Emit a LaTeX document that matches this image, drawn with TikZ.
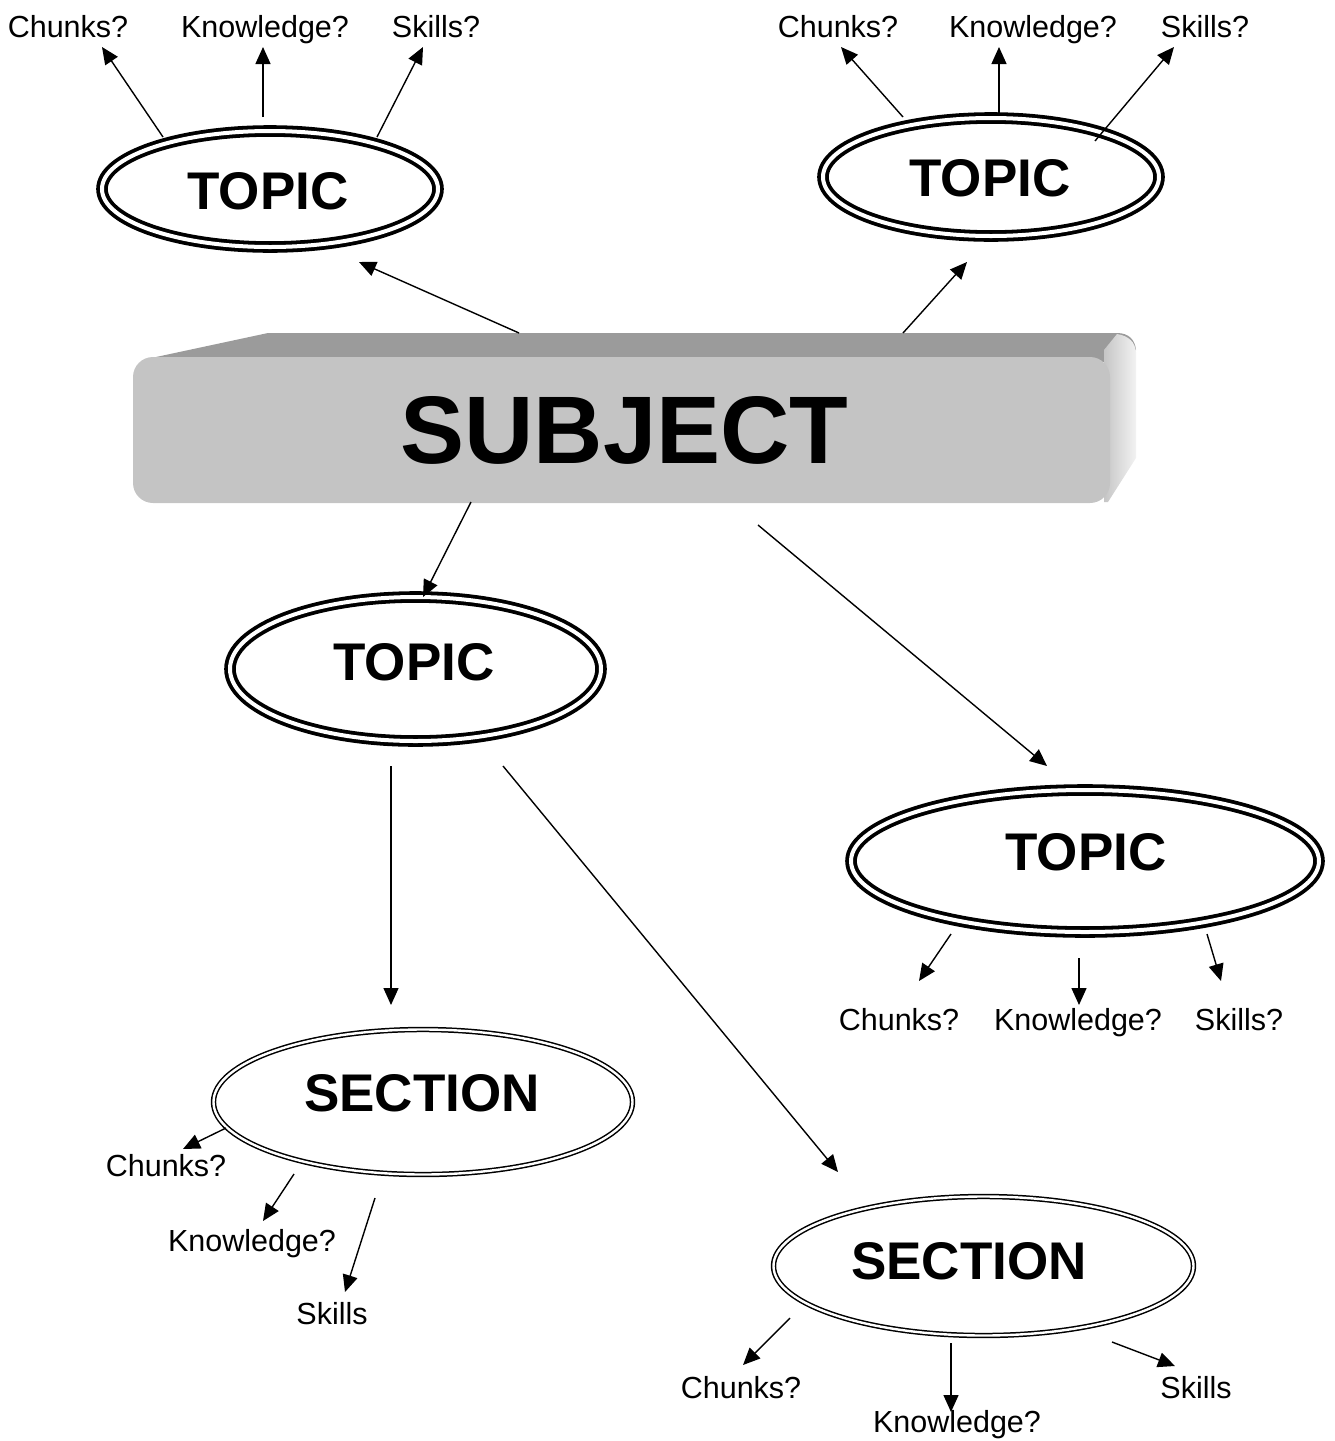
\documentclass[tikz,border=0pt]{standalone}
\usepackage{fontspec}
\setmainfont{Liberation Sans}
\usetikzlibrary{shapes.geometric,arrows.meta}
\definecolor{topgray}{HTML}{9B9B9B}
\definecolor{frontgray}{HTML}{C4C4C4}
\begin{document}
\begin{tikzpicture}[x=1pt,y=-1pt,
 topicell/.style={ellipse, draw, double, double distance=4pt, line width=3.8pt, inner sep=0pt},
 sectell/.style={ellipse, draw, double, double distance=2.4pt, line width=1.5pt, inner sep=0pt},
 bigtxt/.style={font=\bfseries\fontsize{53}{60}\selectfont, inner sep=0pt},
 lbl/.style={font=\fontsize{30.5}{36}\selectfont, inner sep=0pt, anchor=base},
 arr/.style={line width=1.4pt, -{Triangle[length=17pt,width=15pt]}},
]
\useasboundingbox (0,0) rectangle (1335,1441);

% SUBJECT block
\fill[topgray] (156,357) -- (268,333) -- (1117,333) .. controls (1129,333) and (1135,340) .. (1136,350) -- (1110,362) -- cycle;
\shade[left color=gray!45, right color=gray!10] (1104,350) -- (1117,334) .. controls (1129,336) and (1135,342) .. (1136,352) -- (1136,458) -- (1108,502) -- (1104,502) -- cycle;
\node[rectangle, rounded corners=20pt, fill=frontgray, minimum width=977pt, minimum height=146pt, inner sep=0pt] (subj) at (621.5,430) {};
\node[font=\bfseries\fontsize{96}{100}\selectfont, inner sep=0pt] (subjtxt) at (624.5,430) {SUBJECT};

% ellipses
\node[topicell, minimum width=336pt, minimum height=116pt] (t1) at (270,189) {};
\node[bigtxt] (t1txt) at (268,191) {TOPIC};
\node[topicell, minimum width=336pt, minimum height=118pt] (t2) at (991,177) {};
\node[bigtxt] (t2txt) at (990,178) {TOPIC};
\node[topicell, minimum width=371pt, minimum height=144pt] (t3) at (415.5,669) {};
\node[bigtxt] (t3txt) at (414,662) {TOPIC};
\node[topicell, minimum width=468pt, minimum height=142pt] (t4) at (1085,861) {};
\node[bigtxt] (t4txt) at (1086,852) {TOPIC};
\node[sectell, minimum width=419pt, minimum height=145pt] (s1) at (423,1102) {};
\node[bigtxt] (s1txt) at (422,1093) {SECTION};
\node[sectell, minimum width=420pt, minimum height=139pt] (s2) at (983.5,1266) {};
\node[bigtxt] (s2txt) at (969,1261) {SECTION};

% labels
\node[lbl] (a1) at (68,37) {Chunks?};
\node[lbl] (a2) at (265,37) {Knowledge?};
\node[lbl] (a3) at (436,37) {Skills?};
\node[lbl] (b1) at (838,37) {Chunks?};
\node[lbl] (b2) at (1033,37) {Knowledge?};
\node[lbl] (b3) at (1205,37) {Skills?};
\node[lbl] (c1) at (899,1030) {Chunks?};
\node[lbl] (c2) at (1078,1030) {Knowledge?};
\node[lbl] (c3) at (1239,1030) {Skills?};
\node[lbl] (d1) at (166,1176) {Chunks?};
\node[lbl] (d2) at (252,1251) {Knowledge?};
\node[lbl] (d3) at (332,1324) {Skills};
\node[lbl] (e1) at (741,1398) {Chunks?};
\node[lbl] (e2) at (957,1432) {Knowledge?};
\node[lbl] (e3) at (1196,1398) {Skills};

% connector end points
\coordinate (t1s1) at (163,137); \coordinate (a1e) at (102,47);
\coordinate (t1s2) at (263,117); \coordinate (a2e) at (263,47);
\coordinate (t1s3) at (377,137); \coordinate (a3e) at (423,47);
\coordinate (t2s1) at (903,117); \coordinate (b1e) at (841,47);
\coordinate (t2s2) at (999,116); \coordinate (b2e) at (999,47);
\coordinate (t2s3) at (1095,141); \coordinate (b3e) at (1174,47);
\coordinate (sj1) at (519,333); \coordinate (t1e) at (359,262);
\coordinate (sj2) at (903,333); \coordinate (t2e) at (967,262);
\coordinate (sj3) at (471,502); \coordinate (t3e) at (423,597);
\coordinate (sj4) at (758,525); \coordinate (t4e) at (1047,766);
\coordinate (t3s1) at (391,766); \coordinate (s1e) at (391,1005);
\coordinate (t3s2) at (503,766); \coordinate (s2e) at (838,1172);
\coordinate (t4s1) at (951,934); \coordinate (c1e) at (919,981);
\coordinate (t4s2) at (1079,958); \coordinate (c2e) at (1079,1005);
\coordinate (t4s3) at (1207,934); \coordinate (c3e) at (1221,981);
\coordinate (s1s1) at (226,1128); \coordinate (d1e) at (183,1149);
\coordinate (s1s2) at (294,1174); \coordinate (d2e) at (263,1221);
\coordinate (s1s3) at (375,1198); \coordinate (d3e) at (345,1292);
\coordinate (s2s1) at (790,1318); \coordinate (e1e) at (743,1365);
\coordinate (s2s2) at (951,1343); \coordinate (e2e) at (951,1412);
\coordinate (s2s3) at (1112,1342); \coordinate (e3e) at (1175,1366);

% connectors
\draw[arr] (t1s1) -- (a1e);
\draw[arr] (t1s2) -- (a2e);
\draw[arr] (t1s3) -- (a3e);
\draw[arr] (t2s1) -- (b1e);
\draw[arr] (t2s2) -- (b2e);
\draw[arr] (t2s3) -- (b3e);
\draw[arr] (sj1) -- (t1e);
\draw[arr] (sj2) -- (t2e);
\draw[arr] (sj3) -- (t3e);
\draw[arr] (sj4) -- (t4e);
\draw[arr] (t3s1) -- (s1e);
\draw[arr] (t3s2) -- (s2e);
\draw[arr] (t4s1) -- (c1e);
\draw[arr] (t4s2) -- (c2e);
\draw[arr] (t4s3) -- (c3e);
\draw[arr] (s1s1) -- (d1e);
\draw[arr] (s1s2) -- (d2e);
\draw[arr] (s1s3) -- (d3e);
\draw[arr] (s2s1) -- (e1e);
\draw[arr] (s2s2) -- (e2e);
\draw[arr] (s2s3) -- (e3e);
\end{tikzpicture}
\end{document}
